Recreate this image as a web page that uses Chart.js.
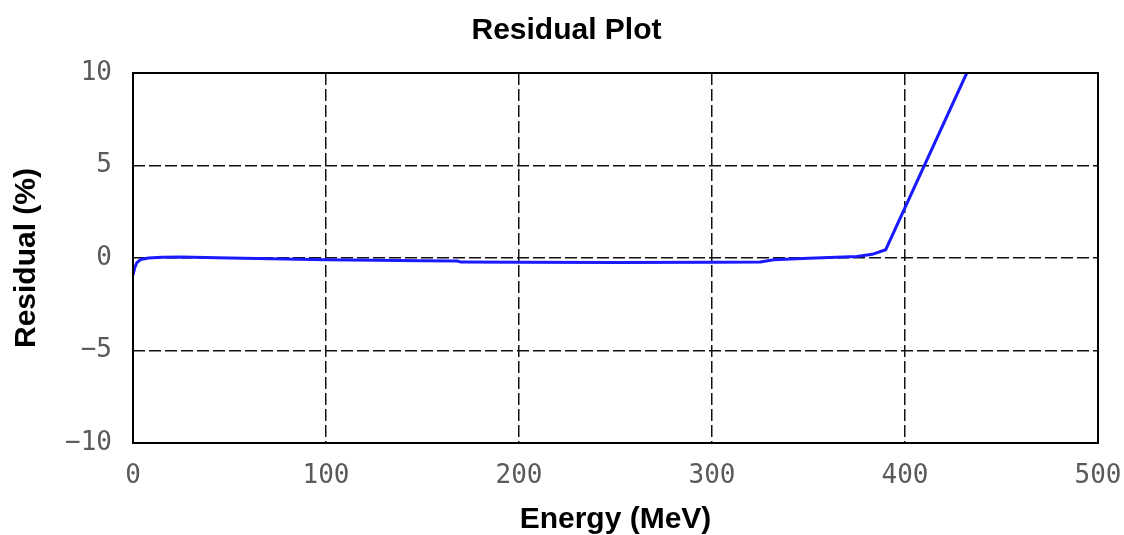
<!DOCTYPE html>
<html>
<head>
<meta charset="utf-8">
<script src="https://cdn.jsdelivr.net/npm/chart.js@4.4.1/dist/chart.umd.min.js"></script>
<style>
  body { margin: 0; background: #fff; }
  #wrap { width: 1124px; height: 535px; }
</style>
</head>
<body>
<div id="wrap"><canvas id="myChart" width="1124" height="535"></canvas></div>
<script>
// residual curve
const energy   = [0, 1, 2, 4, 8, 15, 25, 50, 100, 150, 168, 170, 200, 250, 300, 325, 332, 350, 375, 383, 390, 432];
const residual = [-0.92, -0.5, -0.25, -0.08, 0.0, 0.04, 0.05, 0.0, -0.1, -0.15, -0.16, -0.22, -0.23, -0.24, -0.23, -0.22, -0.1, -0.02, 0.08, 0.2, 0.45, 10];

const xTicks = [0, 100, 200, 300, 400, 500];
const yTicks = [-10, -5, 0, 5, 10];

const points = energy.map((e, i) => ({x: e, y: residual[i]}));

// solid frame round the plot area
const frame = {
    id: "frame",
    afterDatasetsDraw(chart) {
        const {ctx, chartArea: a} = chart;
        ctx.save();
        ctx.strokeStyle = "#000";
        ctx.lineWidth = 2;
        ctx.strokeRect(a.left, a.top, a.right - a.left, a.bottom - a.top);
        ctx.restore();
    }
};

const tickFont = {family: "DejaVu Sans Mono", size: 26};
const labelFont = {family: "Liberation Sans", size: 30, weight: "bold"};

new Chart(document.getElementById("myChart"), {
    type: "scatter",
    data: {
        datasets: [{
            data: points,
            showLine: true,
            borderColor: "#1a1aff",
            borderWidth: 3,
            pointRadius: 0,
            tension: 0
        }]
    },
    options: {
        responsive: false,
        animation: false,
        layout: {padding: {top: 0, right: 0, bottom: 0, left: 9}},
        plugins: {
            legend: {display: false},
            tooltip: {enabled: false},
            title: {
                display: true,
                text: "Residual Plot",
                color: "#000",
                font: labelFont,
                padding: {top: 13, bottom: 24}
            }
        },
        scales: {
            x: {
                type: "linear",
                min: 0,
                max: 500,
                afterBuildTicks: s => { s.ticks = xTicks.map(v => ({value: v})); },
                afterFit: s => { s.height = 92; s.paddingLeft = 0; s.paddingRight = 26; },
                grid: {color: "#111", lineWidth: 1.5, drawTicks: false},
                border: {display: false, dash: [12, 4]},
                ticks: {
                    color: "#5a5a5a",
                    font: tickFont,
                    padding: 18,
                    maxRotation: 0,
                    callback: v => String(v)
                },
                title: {display: true, text: "Energy (MeV)", color: "#000", font: labelFont, padding: {top: 10, bottom: -3}}
            },
            y: {
                type: "linear",
                min: -10,
                max: 10,
                afterBuildTicks: s => { s.ticks = yTicks.map(v => ({value: v})); },
                afterFit: s => { s.width = 124; },
                grid: {color: "#111", lineWidth: 1.5, drawTicks: false},
                border: {display: false, dash: [12, 4]},
                ticks: {
                    color: "#5a5a5a",
                    font: tickFont,
                    padding: 21,
                    callback: v => String(v).replace("-", "\u2212")
                },
                title: {display: true, text: "Residual (%)", color: "#000", font: labelFont, padding: {top: 0, bottom: 0}}
            }
        }
    },
    plugins: [frame]
});
</script>
</body>
</html>
